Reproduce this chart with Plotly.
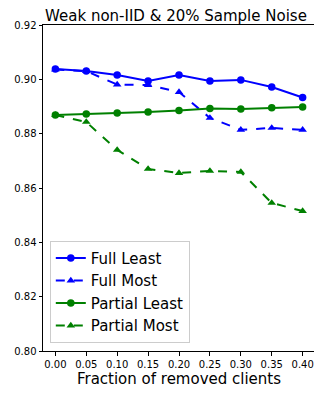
import plotly.graph_objects as go

fracciones = [0.00, 0.05, 0.10, 0.15, 0.20, 0.25, 0.30, 0.35, 0.40]
full_least = [0.9038, 0.9031, 0.9016, 0.8994, 0.9016, 0.8994, 0.8998, 0.8972, 0.8933]
full_most = [0.9036, 0.9030, 0.8981, 0.8979, 0.8953, 0.8858, 0.8814, 0.8821, 0.8814]
partial_least = [0.8869, 0.8872, 0.8876, 0.8880, 0.8885, 0.8893, 0.8891, 0.8895, 0.8898]
partial_most = [0.8869, 0.8843, 0.8740, 0.8670, 0.8655, 0.8663, 0.8659, 0.8545, 0.8515]

x_ticks = [0.00, 0.05, 0.10, 0.15, 0.20, 0.25, 0.30, 0.35, 0.40]
y_ticks = [0.80, 0.82, 0.84, 0.86, 0.88, 0.90, 0.92]

series = [
    ("Full Least", full_least, "blue", "solid", "circle"),
    ("Full Most", full_most, "blue", "dash", "triangle-up"),
    ("Partial Least", partial_least, "green", "solid", "circle"),
    ("Partial Most", partial_most, "green", "dash", "triangle-up"),
]

fig = go.Figure()
for nombre, valores, color, estilo, simbolo in series:
    fig.add_trace(go.Scatter(
        x=fracciones, y=valores, name=nombre, mode="lines+markers",
        line=dict(color=color, width=2, dash=estilo),
        marker=dict(symbol=simbolo, size=7.5, color=color),
    ))

eje = dict(showline=True, mirror=True, linecolor="black", linewidth=1,
           ticks="outside", ticklen=3.5, tickcolor="black", showgrid=False,
           zeroline=False, tickfont=dict(size=10, color="black"))

# la página deja 8px de margen en el body, así que la figura es algo más chica
fig.update_layout(
    width=314, height=386,
    margin=dict(l=29, r=6, t=17, b=43),
    paper_bgcolor="white", plot_bgcolor="white",
    font=dict(family="DejaVu Sans", color="black"),
    title=dict(text="Weak non-IID & 20% Sample Noise", x=0.535, xanchor="center",
               y=1.0, yanchor="top", pad=dict(t=2), font=dict(size=15)),
    xaxis=dict(eje, range=[-0.02, 0.42], tickvals=x_ticks, tickformat=".2f",
               title=dict(text="Fraction of removed clients", font=dict(size=15), standoff=4)),
    yaxis=dict(eje, range=[0.80, 0.92], tickvals=y_ticks, tickformat=".2f"),
    legend=dict(x=0.025, y=0.025, xanchor="left", yanchor="bottom",
                bordercolor="#cccccc", borderwidth=1, bgcolor="rgba(255,255,255,0.8)",
                font=dict(size=15)),
    showlegend=True,
)

fig.write_html("out.html")
